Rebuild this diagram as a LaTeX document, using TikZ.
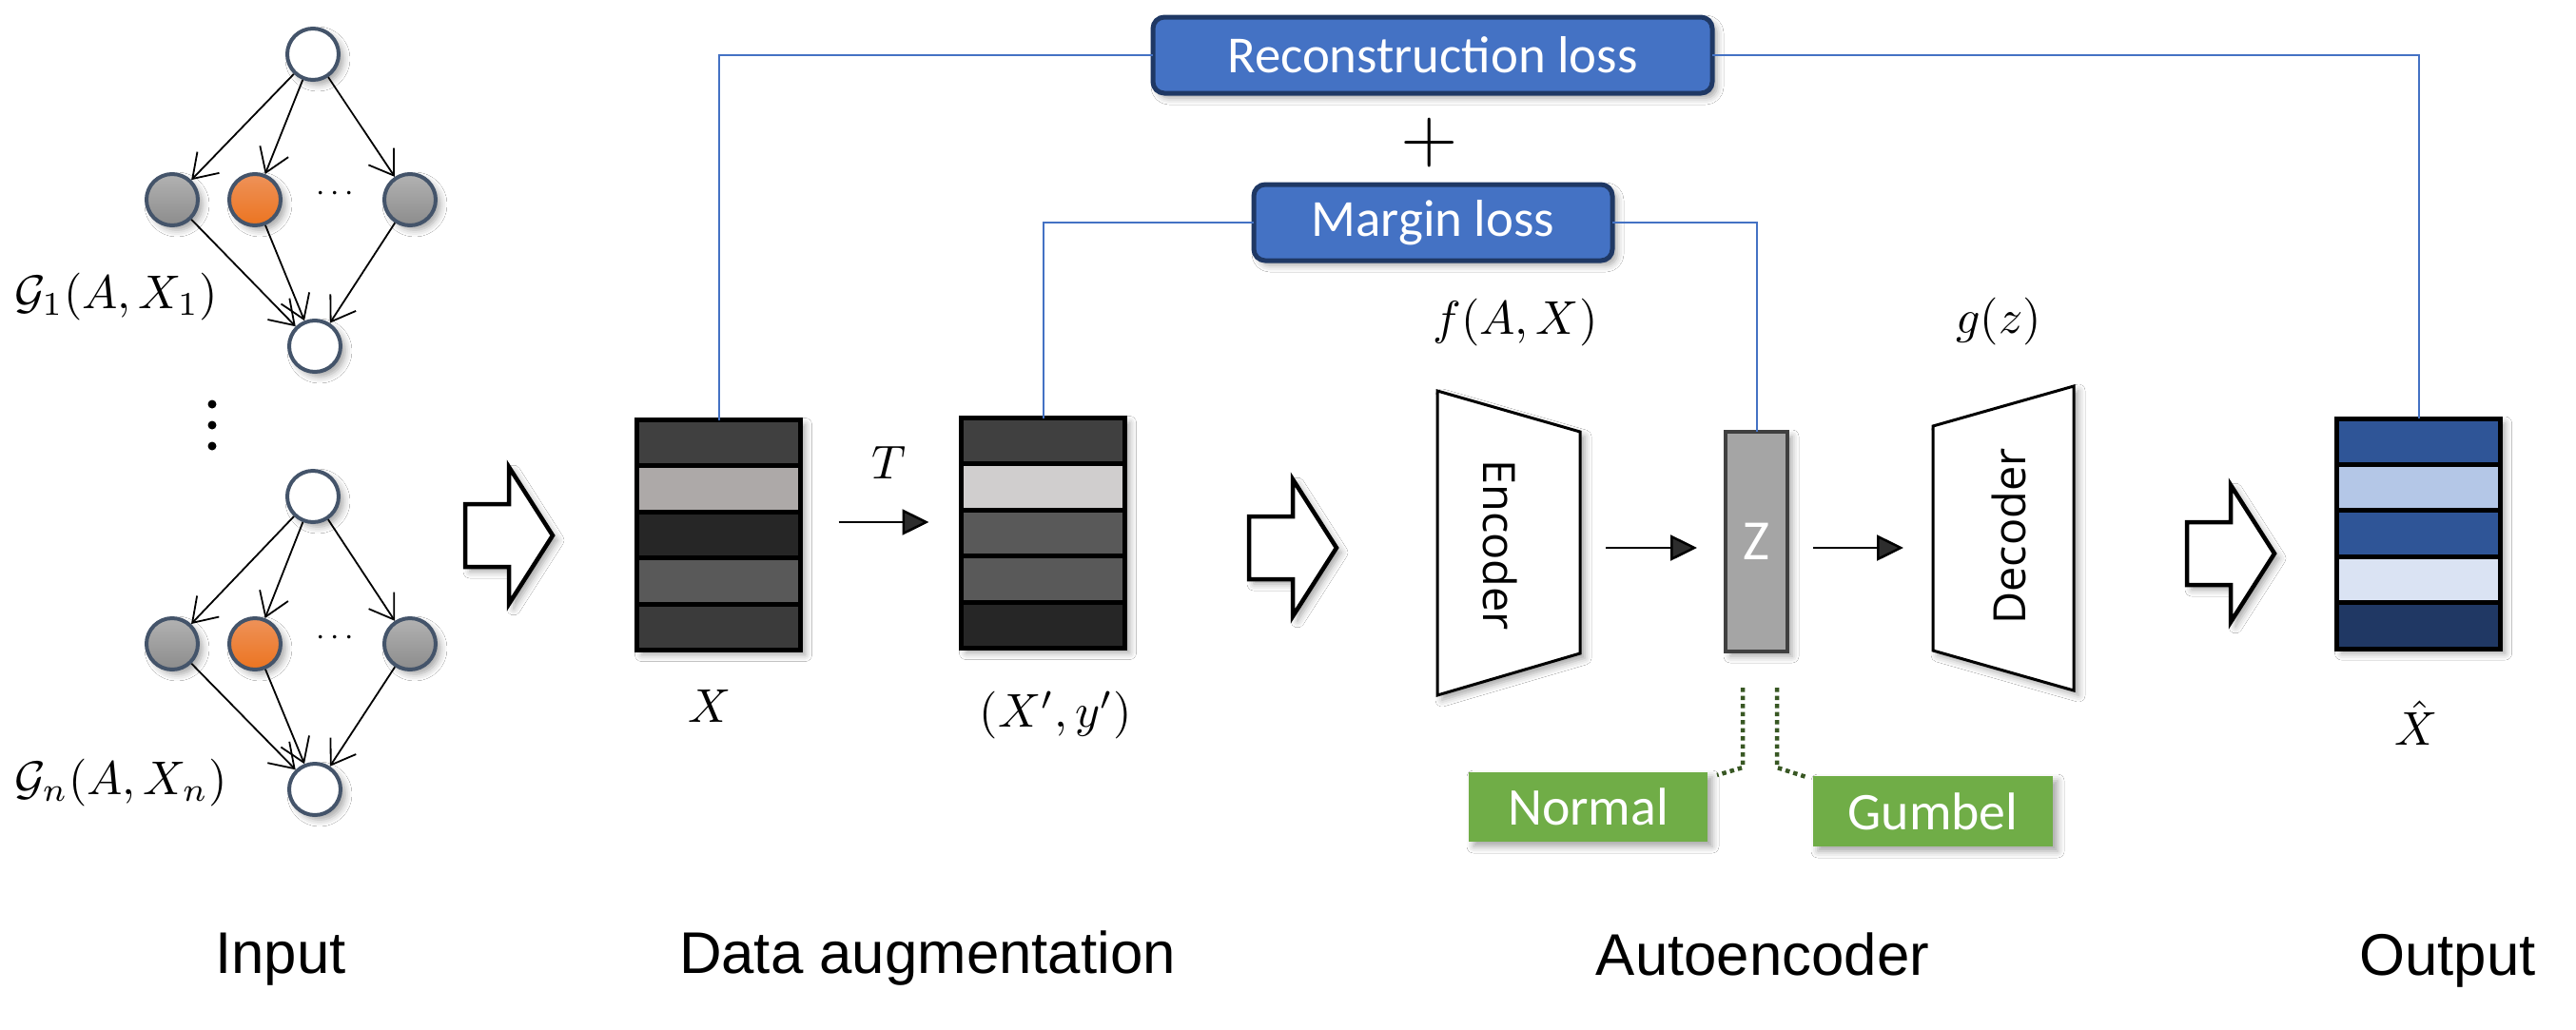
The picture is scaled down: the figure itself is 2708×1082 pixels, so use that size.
\documentclass[tikz,border=0pt]{standalone}
\usepackage{graphicx}
\usepackage{fontspec}
\newfontfamily\boxfont{Carlito}
\newfontfamily\labfont{Liberation Sans}
\newfontfamily\codfont{Open Sans}
\usetikzlibrary{arrows.meta,shadows.blur,calc}
\definecolor{lossblue}{HTML}{4472C4}
\definecolor{lossedge}{HTML}{1F3864}
\definecolor{nodeedge}{HTML}{44546A}
\definecolor{gTop}{HTML}{B2B2B2}
\definecolor{gBot}{HTML}{8C8C8C}
\definecolor{oTop}{HTML}{EE9259}
\definecolor{oBot}{HTML}{EC7420}
\definecolor{grn}{HTML}{70AD47}
\definecolor{dotgreen}{HTML}{385723}
\definecolor{mA}{HTML}{404040}
\definecolor{mB}{HTML}{ADA9A8}
\definecolor{mC}{HTML}{262626}
\definecolor{mD}{HTML}{595959}
\definecolor{mE}{HTML}{3B3B3B}
\definecolor{mF}{HTML}{D0CECE}
\definecolor{oA}{HTML}{2F5597}
\definecolor{oB}{HTML}{B4C7E7}
\definecolor{oC}{HTML}{DAE3F3}
\definecolor{oD}{HTML}{203864}
\definecolor{zfill}{HTML}{A5A5A5}
\definecolor{zedge}{HTML}{404040}
\newcommand{\mysc}[1]{\scalebox{5}{#1}}
\newcommand{\mystack}[2]{%
  \foreach \c [count=\i from 0] in {#2} {
    \fill[\c] ($(#1.north west)!{\i/5}!(#1.south west)$) rectangle ($(#1.north east)!{(\i+1)/5}!(#1.south east)$);
  }
  \foreach \i in {1,...,4} \draw[line width=5bp] ($(#1.north west)!{\i/5}!(#1.south west)$) -- ($(#1.north east)!{\i/5}!(#1.south east)$);
  \draw[line width=5bp] (#1.north west) rectangle (#1.south east);
}
\newcommand{\blockarr}[2]{%
  \draw[barrow] (#1,#2-33) -- ++(46,0) -- ++(0,-39) -- (#1+92,#2) -- (#1+46,#2+72) -- ++(0,-39) -- (#1,#2+33) -- cycle;
}
\begin{document}
\begin{tikzpicture}[x=1bp,y=-1bp,
  shadowy/.style={blur shadow={shadow xshift=5bp, shadow yshift=-5bp, shadow blur radius=7bp, shadow opacity=35}},
  gnode/.style={circle, draw=nodeedge, line width=4bp, minimum size=54bp, inner sep=0pt, shadowy},
  wnode/.style={gnode, fill=white},
  graynode/.style={gnode, top color=gTop, bottom color=gBot},
  orangenode/.style={gnode, top color=oTop, bottom color=oBot},
  garr/.style={line width=1.8bp, -{Straight Barb[length=24bp, width=32bp, line width=1.8bp]}},
  sarr/.style={line width=2.5bp, -{Triangle[length=28bp, width=27bp]}},
  mathlab/.style={inner sep=0pt},
  matbox/.style={rectangle, minimum width=172bp, minimum height=242bp, inner sep=0pt, outer sep=0pt, fill=white, shadowy},
  barrow/.style={line width=4.5bp, fill=white, line join=miter, shadowy},
  lossbox/.style={rectangle, rounded corners=12bp, fill=lossblue, draw=lossedge, line width=5bp, text=white, font=\boxfont\fontsize{55}{62}\selectfont, inner sep=0pt, outer sep=0pt, shadowy},
  blueline/.style={draw=lossblue, line width=2bp},
  trap/.style={line width=3bp, fill=white, line join=miter, shadowy},
  grnbox/.style={rectangle, fill=grn, text=white, font=\boxfont\fontsize{56}{62}\selectfont, inner sep=0pt, outer sep=0pt, shadowy},
  dotline/.style={draw=dotgreen, line width=4.5bp, dash pattern=on 4.5bp off 4bp},
  botlab/.style={font=\labfont\fontsize{62}{72}\selectfont, anchor=base, inner sep=0pt},
  codlab/.style={font=\codfont\fontsize{47}{56}\selectfont, inner sep=0pt}
]
\useasboundingbox (0,0) rectangle (2708,1082);
\fill[white] (0,0) rectangle (2708,1082);

% ---------------- input graphs ----------------
\node[wnode] (a1) at (329,57) {};
\node[graynode] (b1) at (181,210) {};
\node[orangenode] (c1) at (268,210) {};
\node[graynode] (d1) at (431,210) {};
\node[wnode] (e1) at (331,364) {};
\foreach \t in {b1,c1,d1} {\draw[garr] (a1) -- (\t); \draw[garr] (\t) -- (e1);}
\node[inner sep=0pt] (h1) at (352,204) {\scalebox{3.4}{$\cdots$}};
\node[mathlab] (lg1) at (122,312) {\mysc{$\mathcal{G}_1(A,X_1)$}};

\node[wnode] (a2) at (329,522) {};
\node[graynode] (b2) at (181,677) {};
\node[orangenode] (c2) at (268,677) {};
\node[graynode] (d2) at (431,677) {};
\node[wnode] (e2) at (331,830) {};
\foreach \t in {b2,c2,d2} {\draw[garr] (a2) -- (\t); \draw[garr] (\t) -- (e2);}
\node[inner sep=0pt] (h2) at (352,671) {\scalebox{3.4}{$\cdots$}};
\node[mathlab] (lg2) at (127,823) {\mysc{$\mathcal{G}_n(A,X_n)$}};

\foreach \yy in {425,447,469} \fill (223,\yy) circle[radius=4.5bp];

% ---------------- block arrows ----------------
\blockarr{489}{563}
\blockarr{1313}{576}
\blockarr{2299}{582}

% ---------------- data augmentation ----------------
\node[matbox] (X) at (755.5,562.5) {};
\mystack{X}{mA,mB,mC,mD,mE}
\node[matbox] (Xp) at (1096.5,560.5) {};
\mystack{Xp}{mA,mF,mD,mD,mC}
\path ([yshift=13.5bp]X.east) coordinate (tS);
\draw[sarr, shorten <=40bp, shorten >=34bp] (tS) -- (Xp.west |- tS);
\node[mathlab] (lT) at (935,486) {\mysc{$T$}};
\node[mathlab] (lX) at (746,742) {\mysc{$X$}};
\node[mathlab] (lXp) at (1110,752) {\mysc{$(X',y')$}};

% ---------------- autoencoder ----------------
\draw[trap] (1511,411) -- (1661,454) -- (1661,687) -- (1511,731) -- cycle;
\draw[trap] (2032,448) -- (2180,406) -- (2180,726) -- (2032,684) -- cycle;
\node[codlab, rotate=-90] (enc) at (1577,573) {Encoder};
\node[codlab, rotate=90] (dec) at (2112,564) {Decoder};
\coordinate (encR) at (1661,576);
\coordinate (decL) at (2032,576);
\node[rectangle, fill=zfill, draw=zedge, line width=4bp, minimum width=65bp, minimum height=231bp, inner sep=0pt, outer sep=0pt, text=white, font=\boxfont\fontsize{60}{64}\selectfont, shadowy] (Z) at (1846.5,569.5) {Z};
\draw[sarr, shorten <=27bp, shorten >=30bp] (encR) -- (Z.west |- encR);
\draw[sarr, shorten <=27bp, shorten >=31bp] (Z.east |- encR) -- (decL);
\node[mathlab] (lf) at (1593,339) {\mysc{$f(A,X)$}};
\node[mathlab] (lgz) at (2101,338) {\mysc{$g(z)$}};

\node[grnbox, minimum width=251bp, minimum height=73bp] (nrm) at (1669.5,848.5) {Normal};
\node[grnbox, minimum width=252bp, minimum height=74bp] (gum) at (2032,853) {Gumbel};
\draw[dotline] ([xshift=-14.5bp,yshift=-38bp]Z.south) -- ++(0,84) -- ([xshift=10bp,yshift=-3bp]nrm.north east);
\draw[dotline] ([xshift=21.5bp,yshift=-38bp]Z.south) -- ++(0,84) -- ([xshift=-7bp,yshift=-1bp]gum.north west);

% ---------------- output ----------------
\node[matbox] (Out) at (2542.5,561) {};
\mystack{Out}{oA,oB,oA,oC,oD}
\node[mathlab] (lXh) at (2540,760) {\mysc{$\hat{X}$}};

% ---------------- losses ----------------
\node[lossbox, minimum width=588bp, minimum height=80bp] (rec) at (1506,58) {Reconstruction loss};
\node[lossbox, minimum width=377bp, minimum height=80bp] (mar) at (1506.5,234) {Margin loss};
\node[inner sep=0pt] (plus) at (1503,150) {\scalebox{7.8}{$+$}};
\draw[blueline] (X.north) |- (rec.west);
\draw[blueline] (rec.east) -| (Out.north);
\draw[blueline] (Xp.north) |- (mar.west);
\draw[blueline] (mar.east) -| (Z.north);

% ---------------- bottom labels ----------------
\node[botlab] (tin) at (295,1023) {Input};
\node[botlab] (tda) at (975,1023) {Data augmentation};
\node[botlab] (tae) at (1853,1025) {Autoencoder};
\node[botlab] (tout) at (2573,1025) {Output};
\end{tikzpicture}
\end{document}
